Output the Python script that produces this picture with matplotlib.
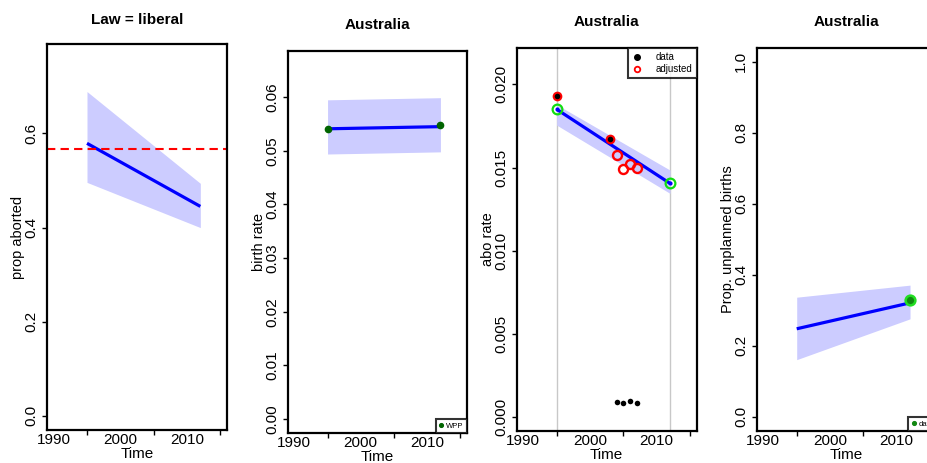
import matplotlib
matplotlib.use("Agg")
import matplotlib.pyplot as plt
from matplotlib.ticker import FixedLocator, FormatStrFormatter

plt.rcParams['font.family'] = ['Liberation Sans', 'DejaVu Sans']

# ---- data ----
fit_years = [1995, 2012]

# panel 1: prop aborted, law = liberal
p1_fit = [0.579, 0.445]
p1_lo = [0.496, 0.400]
p1_hi = [0.689, 0.494]
p1_ref = 0.568

# panel 2: birth rate
p2_fit = [0.0541, 0.0545]
p2_lo = [0.0494, 0.0498]
p2_hi = [0.0595, 0.0599]
wpp_years = [1995, 2012]
wpp_vals = [0.0541, 0.0548]

# panel 3: abortion rate
p3_fit = [0.01850, 0.01405]
p3_lo = [0.01755, 0.01345]
p3_hi = [0.01878, 0.01485]
obs_years = [1995, 2003, 2004, 2005, 2006, 2007]
obs_data = [0.0193, 0.0167, 0.00094, 0.00088, 0.00096, 0.00088]
obs_adjusted = [0.0193, 0.0167, 0.01574, 0.01491, 0.01523, 0.01497]

# panel 4: prop unplanned births
p4_fit = [0.248, 0.321]
p4_lo = [0.161, 0.276]
p4_hi = [0.337, 0.371]
unpl_years = [2012]
unpl_vals = [0.328]

xlim = (1989, 2016)
xlabels = [1990, 2000, 2010]
xminor = [1995, 2005, 2015]

BAND = '#ccccff'
BLUE = '#0000ff'

W, H = 928, 463
fig = plt.figure(figsize=(W / 100, H / 100), dpi=100)


def make_axes(x0, x1, y0, y1):
    return fig.add_axes([x0 / W, 1 - y1 / H, (x1 - x0) / W, (y1 - y0) / H])


def style(ax, ylim, yticks, fmt, ylabel, title, hpx, tpad):
    ax.set_xlim(*xlim)
    ax.set_ylim(*ylim)
    ax.xaxis.set_major_locator(FixedLocator(xlabels))
    ax.xaxis.set_minor_locator(FixedLocator(xminor))
    ax.tick_params(axis='x', which='major', length=0, pad=2.5, labelsize=11)
    ax.tick_params(axis='x', which='minor', length=3.5, width=1)
    ax.set_yticks(yticks)
    ax.yaxis.set_major_formatter(FormatStrFormatter(fmt))
    ax.tick_params(axis='y', length=3.5, width=1, pad=2.5, labelsize=11,
                   labelrotation=90)
    for lab in ax.get_yticklabels():
        lab.set_va('center')
    for s in ax.spines.values():
        s.set_linewidth(1.6)
    ax.set_xlabel('Time', fontsize=11, va='center')
    ax.xaxis.set_label_coords(0.5, -24 / hpx)
    ax.set_ylabel(ylabel, fontsize=10.5, va='center')
    ax.yaxis.set_label_coords(-29 / 180, 0.5)
    ax.text(0.5, 1 + tpad / hpx, title, transform=ax.transAxes, ha='center',
            va='center', fontsize=11, fontweight='bold')


# ---- panel 1 ----
ax1 = make_axes(47, 227, 44, 430)
ax1.fill_between(fit_years, p1_lo, p1_hi, color=BAND, lw=0)
ax1.plot(fit_years, p1_fit, color=BLUE, lw=2.3, solid_capstyle='butt')
ax1.axhline(p1_ref, color='#ff0000', lw=1.5, dashes=(4, 2.5))
style(ax1, (-0.03, 0.79), [0, 0.2, 0.4, 0.6], '%.1f', 'prop aborted',
      'Law = liberal', 386, 24)

# ---- panel 2 ----
ax2 = make_axes(287.7, 467, 51, 433)
ax2.fill_between(fit_years, p2_lo, p2_hi, color=BAND, lw=0)
ax2.plot(fit_years, p2_fit, color=BLUE, lw=2.3, solid_capstyle='butt')
ax2.plot(wpp_years, wpp_vals, 'o', color='#006400', ms=4.5, label='WPP')
style(ax2, (-0.0026, 0.0686), [0, 0.01, 0.02, 0.03, 0.04, 0.05, 0.06],
      '%.2f', 'birth rate', 'Australia', 382, 26)
leg2 = ax2.legend(loc='lower right', fontsize=5.5, frameon=True,
                  fancybox=False, borderaxespad=0, borderpad=0.45,
                  handlelength=0.6, handletextpad=0.3, markerscale=0.6)
leg2.get_frame().set_edgecolor('black')
leg2.get_frame().set_linewidth(1.5)

# ---- panel 3 ----
ax3 = make_axes(516.7, 696.7, 47.7, 431)
for yr in fit_years:
    ax3.axvline(yr, color='#c8c8c8', lw=1, zorder=0)
ax3.fill_between(fit_years, p3_lo, p3_hi, color=BAND, lw=0)
ax3.plot(fit_years, p3_fit, color=BLUE, lw=2.3, solid_capstyle='butt')
ax3.plot(fit_years, p3_fit, 'o', mfc='none', mec='#11dd11', ms=7, mew=1.6)
ax3.plot(fit_years, p3_fit, 'o', color=BLUE, ms=2)
same = [abs(d - a) < 1e-6 for d, a in zip(obs_data, obs_adjusted)]
ax3.plot([y for y, s in zip(obs_years, same) if s],
         [a for a, s in zip(obs_adjusted, same) if s],
         'o', color='#ff0000', ms=7, mew=0)
ax3.plot(obs_years, obs_data, 'o', color='black', ms=4, mew=0)
ax3.plot([y for y, s in zip(obs_years, same) if s],
         [d for d, s in zip(obs_data, same) if s],
         'o', color='black', ms=2, mew=0)
ax3.plot([y for y, s in zip(obs_years, same) if not s],
         [a for a, s in zip(obs_adjusted, same) if not s],
         'o', mfc='none', mec='#ff0000', ms=6.5, mew=1.7)
style(ax3, (-0.00082, 0.0222), [0, 0.005, 0.01, 0.015, 0.02], '%.3f',
      'abo rate', 'Australia', 383.3, 26)
h_data = plt.Line2D([], [], ls='none', marker='o', color='black', ms=4)
h_adj = plt.Line2D([], [], ls='none', marker='o', mfc='none', mec='#ff0000',
                   ms=4, mew=1.3)
leg3 = ax3.legend([h_data, h_adj], ['data', 'adjusted'], loc='upper right',
                  fontsize=7, frameon=True, fancybox=False, borderaxespad=0,
                  borderpad=0.45, labelspacing=0.2, handlelength=1.0,
                  handletextpad=1.4)
leg3.get_frame().set_edgecolor('black')
leg3.get_frame().set_linewidth(1.5)

# ---- panel 4 ----
ax4 = make_axes(756.7, 936.7, 47.7, 431)
ax4.fill_between(fit_years, p4_lo, p4_hi, color=BAND, lw=0)
ax4.plot(fit_years, p4_fit, color=BLUE, lw=2.3, solid_capstyle='butt')
ax4.plot(unpl_years, unpl_vals, 'o', mfc='#118811', mec='#22dd22', ms=7,
         mew=1.8, label='data')
style(ax4, (-0.04, 1.04), [0, 0.2, 0.4, 0.6, 0.8, 1.0], '%.1f',
      'Prop. unplanned births', 'Australia', 383.3, 26)
h_d4 = plt.Line2D([], [], ls='none', marker='o', color='#118811', ms=2.7)
leg4 = ax4.legend([h_d4], ['data'], loc='lower right', fontsize=5.5,
                  frameon=True, fancybox=False, borderaxespad=0,
                  borderpad=0.45, handlelength=0.6, handletextpad=0.3)
leg4.get_frame().set_edgecolor('black')
leg4.get_frame().set_linewidth(1.5)

fig.savefig('out.png', dpi=100)
